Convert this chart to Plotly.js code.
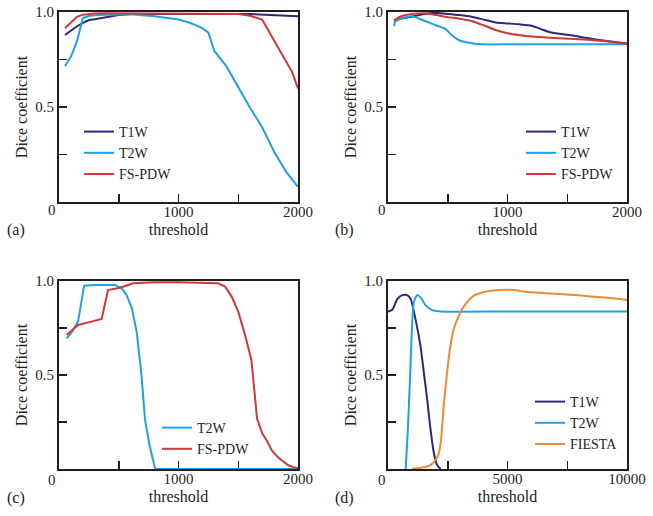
<!DOCTYPE html>
<html>
<head>
<meta charset="utf-8">
<script src="https://cdn.plot.ly/plotly-3.0.1.min.js"></script>
<style>html,body{margin:0;padding:0;background:#fff;}#chart{width:653px;height:516px;}</style>
</head>
<body>
<div id="chart"></div>
<script>
// ---------- Data ----------
// Panel (a)
const aT1W_x = [50, 100, 150, 200, 250, 300, 400, 500, 600, 800, 1000, 1200, 1400, 1500, 1600, 1700, 1800, 1900, 2000];
const aT1W_y = [0.879, 0.903, 0.925, 0.943, 0.958, 0.962, 0.972, 0.984, 0.989, 0.99, 0.99, 0.99, 0.99, 0.99, 0.989, 0.987, 0.984, 0.981, 0.978];
const aT2W_x = [50, 100, 150, 200, 250, 300, 400, 500, 600, 800, 1000, 1100, 1200, 1250, 1300, 1400, 1500, 1600, 1700, 1800, 1900, 2000];
const aT2W_y = [0.716, 0.765, 0.845, 0.968, 0.979, 0.983, 0.986, 0.988, 0.988, 0.978, 0.96, 0.942, 0.915, 0.891, 0.795, 0.715, 0.605, 0.495, 0.393, 0.265, 0.16, 0.08];
const aPDW_x = [50, 100, 150, 200, 250, 300, 400, 600, 800, 1000, 1200, 1400, 1500, 1600, 1700, 1800, 1900, 1950, 2000];
const aPDW_y = [0.914, 0.945, 0.975, 0.986, 0.991, 0.992, 0.993, 0.993, 0.993, 0.993, 0.993, 0.992, 0.99, 0.98, 0.96, 0.85, 0.745, 0.685, 0.598];

// Panel (b)
const bT1W_x = [50, 100, 200, 300, 400, 500, 600, 700, 800, 900, 1000, 1100, 1200, 1250, 1300, 1350, 1450, 1550, 1650, 1800, 1900, 2000];
const bT1W_y = [0.95, 0.965, 0.975, 0.99, 0.995, 0.99, 0.984, 0.975, 0.96, 0.945, 0.94, 0.935, 0.928, 0.918, 0.905, 0.895, 0.884, 0.876, 0.864, 0.85, 0.842, 0.834];
const bT2W_x = [50, 60, 100, 200, 300, 400, 480, 530, 600, 700, 800, 1000, 1500, 2000];
const bT2W_y = [0.925, 0.949, 0.963, 0.978, 0.955, 0.93, 0.911, 0.88, 0.85, 0.836, 0.83, 0.83, 0.83, 0.83];
const bPDW_x = [50, 100, 200, 300, 400, 500, 600, 700, 800, 900, 1000, 1150, 1350, 1600, 1800, 2000];
const bPDW_y = [0.955, 0.975, 0.989, 0.993, 0.984, 0.973, 0.965, 0.953, 0.93, 0.905, 0.888, 0.874, 0.865, 0.856, 0.847, 0.833];

// Panel (c)
const cT2W_x = [64, 110, 160, 210, 300, 470, 525, 565, 610, 650, 690, 720, 760, 805, 1200, 1600, 2000];
const cT2W_y = [0.695, 0.73, 0.785, 0.975, 0.979, 0.979, 0.961, 0.926, 0.855, 0.73, 0.5, 0.261, 0.12, 0.0, 0.0, 0.0, 0.0];
const cPDW_x = [64, 160, 270, 357, 410, 510, 620, 800, 1000, 1200, 1330, 1390, 1445, 1500, 1557, 1610, 1622, 1640, 1657, 1700, 1740, 1780, 1820, 1865, 1920, 1960, 2000];
const cPDW_y = [0.713, 0.766, 0.784, 0.798, 0.952, 0.964, 0.988, 0.993, 0.993, 0.992, 0.988, 0.97, 0.917, 0.837, 0.713, 0.58, 0.5, 0.38, 0.27, 0.19, 0.15, 0.1, 0.07, 0.045, 0.02, 0.01, 0.005];

// Panel (d)
const dT1W_x = [0, 180, 390, 600, 800, 950, 1150, 1360, 1500, 1640, 1780, 1920, 2055, 2200];
const dT1W_y = [0.838, 0.847, 0.904, 0.925, 0.925, 0.904, 0.797, 0.654, 0.512, 0.369, 0.209, 0.084, 0.021, 0.0];
const dT2W_x = [740, 830, 920, 1000, 1080, 1220, 1360, 1570, 1850, 2200, 5000, 10000];
const dT2W_y = [0.0, 0.209, 0.476, 0.743, 0.886, 0.925, 0.913, 0.872, 0.845, 0.838, 0.838, 0.838];
const dFIESTA_x = [1000, 1500, 1780, 1990, 2125, 2220, 2330, 2470, 2610, 2750, 2960, 3240, 3580, 3930, 4400, 5100, 5400, 5700, 6800, 8200, 9550, 10000];
const dFIESTA_y = [0.0, 0.009, 0.021, 0.048, 0.084, 0.155, 0.333, 0.512, 0.654, 0.743, 0.814, 0.877, 0.921, 0.939, 0.95, 0.953, 0.951, 0.943, 0.934, 0.921, 0.907, 0.899];

// Tick labels
const yTickVals = [0.25, 0.5, 0.75, 1.0];
const yTickText = ['', '0.5', '', '1.0'];
const x2kTickVals = [500, 1000, 1500, 2000];
const x2kTickText = ['', '1000', '', '2000'];
const x10kTickVals = [2500, 5000, 7500, 10000];
const x10kTickText = ['', '5000', '', '10000'];
const panelLabels = ['(a)', '(b)', '(c)', '(d)'];

// ---------- Styling ----------
const W = 653, H = 516;
const FONT = 'Liberation Serif, Times New Roman, serif';
const INK = '#231f20';
const C_T1W = '#2e2878';
const C_T2W = '#1fa2e0';
const C_PDW = '#d2373a';
const C_FIESTA = '#ef8a33';

function line(x, y, name, color, xa, ya, legend, shape) {
  return {
    type: 'scatter', mode: 'lines', x: x, y: y, name: name,
    xaxis: xa, yaxis: ya, legend: legend,
    line: {color: color, width: 2, shape: shape || 'linear', smoothing: 0.6},
    hoverinfo: 'skip'
  };
}

const traces = [
  line(aT1W_x, aT1W_y, 'T1W', C_T1W, 'x', 'y', 'legend'),
  line(aT2W_x, aT2W_y, 'T2W', C_T2W, 'x', 'y', 'legend'),
  line(aPDW_x, aPDW_y, 'FS-PDW', C_PDW, 'x', 'y', 'legend'),
  line(bT1W_x, bT1W_y, 'T1W', C_T1W, 'x2', 'y2', 'legend2', 'spline'),
  line(bT2W_x, bT2W_y, 'T2W', C_T2W, 'x2', 'y2', 'legend2', 'spline'),
  line(bPDW_x, bPDW_y, 'FS-PDW', C_PDW, 'x2', 'y2', 'legend2', 'spline'),
  line(cT2W_x, cT2W_y, 'T2W', C_T2W, 'x3', 'y3', 'legend3'),
  line(cPDW_x, cPDW_y, 'FS-PDW', C_PDW, 'x3', 'y3', 'legend3'),
  line(dT1W_x, dT1W_y, 'T1W', C_T1W, 'x4', 'y4', 'legend4', 'spline'),
  line(dT2W_x, dT2W_y, 'T2W', C_T2W, 'x4', 'y4', 'legend4', 'spline'),
  line(dFIESTA_x, dFIESTA_y, 'FIESTA', C_FIESTA, 'x4', 'y4', 'legend4', 'spline')
];

const colL = [59 / W, 298 / W], colR = [388 / W, 627 / W];
const rowT = [(H - 202) / H, (H - 12) / H], rowB = [(H - 469) / H, (H - 281) / H];

function xax(domain, anchor, range, tv, tt) {
  return {
    domain: domain, anchor: anchor, range: range,
    showline: true, mirror: true, linecolor: INK, linewidth: 2,
    ticks: 'inside', ticklen: 8, tickwidth: 1.5, tickcolor: INK,
    tickvals: tv, ticktext: tt, ticklabelstandoff: -5,
    tickfont: {family: FONT, size: 15, color: INK},
    showgrid: false, zeroline: false, fixedrange: true, layer: 'below traces',
    title: {text: 'threshold', font: {family: FONT, size: 16, color: INK}, standoff: 5}
  };
}
function yax(domain, anchor) {
  return {
    domain: domain, anchor: anchor, range: [0, 1],
    showline: true, mirror: true, linecolor: INK, linewidth: 2,
    ticks: 'inside', ticklen: 8, tickwidth: 1.5, tickcolor: INK,
    tickvals: yTickVals, ticktext: yTickText,
    tickfont: {family: FONT, size: 15, color: INK},
    showgrid: false, zeroline: false, fixedrange: true, layer: 'below traces',
    title: {text: 'Dice coefficient', font: {family: FONT, size: 16, color: INK}, standoff: 4}
  };
}
function leg(px, py) {
  return {
    x: px / W, y: 1 - py / H, xanchor: 'left', yanchor: 'top',
    bgcolor: 'rgba(0,0,0,0)', borderwidth: 0,
    font: {family: FONT, size: 14, color: INK},
    tracegroupgap: 0, itemclick: false, itemdoubleclick: false
  };
}
function ann(text, px, py, size) {
  return {
    text: text, x: px / W, y: 1 - py / H, xref: 'paper', yref: 'paper',
    xanchor: 'center', yanchor: 'middle', showarrow: false,
    font: {family: FONT, size: size, color: INK}
  };
}

const layout = {
  width: W, height: H,
  margin: {l: 0, r: 0, t: 0, b: 0},
  paper_bgcolor: '#fff', plot_bgcolor: '#fff',
  font: {family: FONT, color: INK},
  xaxis: xax(colL, 'y', [0, 2000], x2kTickVals, x2kTickText),
  yaxis: yax(rowT, 'x'),
  xaxis2: xax(colR, 'y2', [0, 2000], x2kTickVals, x2kTickText),
  yaxis2: yax(rowT, 'x2'),
  xaxis3: xax(colL, 'y3', [0, 2000], x2kTickVals, x2kTickText),
  yaxis3: yax(rowB, 'x3'),
  xaxis4: xax(colR, 'y4', [0, 10000], x10kTickVals, x10kTickText),
  yaxis4: yax(rowB, 'x4'),
  legend: leg(79, 116),
  legend2: leg(521, 116),
  legend3: leg(157, 412),
  legend4: leg(530, 386),
  annotations: [
    ann('0', 52, 210, 15), ann('0', 382, 210, 15), ann('0', 52, 480, 15), ann('0', 382, 480, 15),
    ann(panelLabels[0], 16, 230, 16), ann(panelLabels[1], 344, 230, 16),
    ann(panelLabels[2], 16, 498, 16), ann(panelLabels[3], 344, 498, 16)
  ]
};

Plotly.newPlot('chart', traces, layout, {staticPlot: true, displayModeBar: false});
</script>
</body>
</html>
